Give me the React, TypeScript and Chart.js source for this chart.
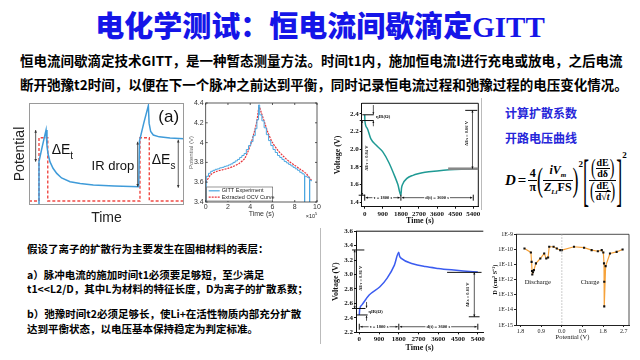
import React, { useEffect, useRef } from "react";
import { Chart, registerables } from "chart.js";
Chart.register(...registerables);

const SANS = '"Liberation Sans", Arial, sans-serif';
const SERIF = '"Liberation Serif", "Times New Roman", serif';
const CJK = '"Noto Sans CJK SC", "Noto Sans", sans-serif';

// ---------- (a) schematic, arbitrary units 0..100 ----------
const SCH_BLUE_X = [6.45, 6.45, 8.5, 11.0, 11.6, 12.3, 13.5, 15.5, 17.9, 21, 26.5, 33, 41.5, 55, 70.8, 71.3, 74, 77.0, 77.5, 78.5, 80.2, 84, 91, 100];
const SCH_BLUE_Y = [-5, 42.5, 57, 73.5, 58, 50, 42.5, 36, 31, 26.5, 22.8, 21, 19.6, 18.7, 18, 63, 80, 97.4, 80, 72, 68.6, 66.8, 65.6, 65];
const SCH_RED_X = [0, 6.45, 6.45, 12.1, 12.1, 71.6, 71.6, 77.6, 77.6, 100];
const SCH_RED_Y = [3.9, 3.9, 66, 66, 3.9, 3.9, 66, 66, 3.9, 3.9];

// ---------- GITT experiment (time in 1e5 s) ----------
const GITT_T = [0.05, 0.05, 0.25, 0.45, 0.65, 0.85, 1.05, 1.25, 1.45, 1.65, 1.85, 2.05, 2.25, 2.45, 2.65, 2.85, 3.05, 3.25, 3.45, 3.65, 3.85, 4.05, 4.25, 4.45, 4.6, 4.75, 4.85, 5.05, 5.25, 5.45, 5.65, 5.85, 6.05, 6.25, 6.45, 6.65, 6.85, 7.05, 7.25, 7.45, 7.65, 7.85, 8.05, 8.25, 8.45, 8.65, 8.85, 8.88, 8.9, 9.1, 9.3, 9.33, 9.35, 9.5];
const GITT_V = [3.3, 3.66, 3.69, 3.71, 3.72, 3.73, 3.735, 3.745, 3.75, 3.76, 3.765, 3.775, 3.785, 3.8, 3.815, 3.83, 3.85, 3.87, 3.89, 3.93, 3.97, 4.01, 4.07, 4.14, 4.23, 4.38, 4.28, 4.22, 4.15, 4.08, 4.02, 3.97, 3.93, 3.9, 3.87, 3.85, 3.83, 3.81, 3.795, 3.78, 3.765, 3.75, 3.735, 3.72, 3.7, 3.685, 3.67, 3.3, 3.66, 3.65, 3.63, 3.3, 3.62, 3.61];
const OCV_T = [0, 0.5, 1, 1.5, 2, 2.5, 3, 3.5, 4, 4.3, 4.6, 4.8, 5.0, 5.3, 5.6, 6, 6.5, 7, 7.5, 8, 8.5, 9, 9.5];
const OCV_V = [3.6, 3.68, 3.71, 3.725, 3.74, 3.76, 3.79, 3.84, 3.97, 4.08, 4.22, 4.36, 4.3, 4.2, 4.1, 4.0, 3.92, 3.86, 3.81, 3.77, 3.73, 3.69, 3.62];
const GITT_X_TICKS = [0, 2, 4, 6, 8, 10];
const GITT_Y_TICKS = [3.4, 3.6, 3.8, 4.0, 4.2, 4.4];

// ---------- discharge pulse ----------
const DIS_T = [0, 10, 120, 300, 600, 900, 1200, 1500, 1650, 1800, 1830, 1900, 2100, 2400, 2700, 3000, 3600, 4200, 4800, 5400];
const DIS_V = [2.39, 2.32, 2.24, 2.12, 2.04, 1.97, 1.85, 1.69, 1.6, 1.48, 1.56, 1.61, 1.67, 1.705, 1.725, 1.74, 1.755, 1.767, 1.775, 1.78];
const DIS_Y_TICKS = [1.4, 1.6, 1.8, 2.0, 2.2, 2.4];
const TIME_TICKS = [0, 900, 1800, 2700, 3600, 4500, 5400];

// ---------- charge pulse ----------
const CHG_T = [0, 20, 120, 450, 940, 1270, 1600, 1800, 1830, 1930, 2430, 3000, 3590, 4200, 4740, 5400];
const CHG_V = [2.44, 2.52, 2.58, 2.715, 2.83, 2.95, 3.13, 3.31, 3.26, 3.22, 3.15, 3.11, 3.085, 3.065, 3.05, 3.035];
const CHG_Y_TICKS = [2.2, 2.4, 2.6, 2.8, 3.0, 3.2, 3.4, 3.6];

// ---------- diffusion coefficient ----------
const D_POT = [-1.63, -1.35, -1.32, -1.3, -1.29, -1.26, -1.22, -1.13, -0.94, -0.77, -0.68, -0.6, -0.55, -0.36, -0.22, -0.07, 0.0, 0.53, 0.97, 1.3, 1.57, 1.74, 1.81, 1.84, 1.85, 1.85, 1.91, 2.1, 2.39, 2.65];
const D_VAL = [1.15e-10, 6.3e-11, 1.5e-11, 3.7e-12, 2.2e-12, 3.1e-12, 4.3e-12, 1.2e-11, 2.5e-11, 5.4e-11, 2.5e-11, 2.9e-11, 1.5e-10, 1.5e-10, 1.15e-10, 8.9e-11, 8.9e-11, 1.5e-10, 1.3e-10, 8.9e-11, 7.6e-11, 8.9e-11, 6.3e-11, 1.2e-11, 7.2e-13, 1.7e-14, 7.9e-12, 5.4e-11, 6.9e-11, 9.8e-11];
const D_X_TICKS = [-1.8, -0.9, 0, 0.9, 1.8, 2.7];
const D_Y_TICKS = [1e-15, 1e-14, 1e-13, 1e-12, 1e-11, 1e-10, 1e-9];

const xy = (xs: number[], ys: number[]) => xs.map((x, i) => ({ x, y: ys[i] }));

function arrow(ctx: any, x1: number, y1: number, x2: number, y2: number, both: boolean, head = 3) {
  ctx.beginPath(); ctx.moveTo(x1, y1); ctx.lineTo(x2, y2); ctx.stroke();
  const h = (xa: number, ya: number, xb: number, yb: number) => {
    const a = Math.atan2(yb - ya, xb - xa);
    ctx.beginPath();
    ctx.moveTo(xb, yb);
    ctx.lineTo(xb - head * Math.cos(a - 0.45), yb - head * Math.sin(a - 0.45));
    ctx.lineTo(xb - head * Math.cos(a + 0.45), yb - head * Math.sin(a + 0.45));
    ctx.closePath(); ctx.fill();
  };
  h(x1, y1, x2, y2);
  if (both) h(x2, y2, x1, y1);
}

const base = (pad: any) => ({
  responsive: false, animation: false, events: [],
  layout: { padding: pad },
  plugins: { legend: { display: false }, tooltip: { enabled: false } },
  elements: { point: { radius: 0 } },
});
const setTicks = (vals: number[]) => (s: any) => { s.ticks = vals.map((v) => ({ value: v })); };

// ---------- chart builders ----------
function makeSchematic() {
  const plugin = {
    id: "schem",
    afterDatasetsDraw(c: any) {
      const { ctx, chartArea: a, scales } = c;
      const X = (v: number) => scales.x.getPixelForValue(v);
      const Y = (v: number) => scales.y.getPixelForValue(v);
      ctx.save();
      ctx.strokeStyle = "#9a9a9a"; ctx.lineWidth = 1;
      ctx.strokeRect(a.left + 0.5, a.top + 0.5, a.right - a.left - 1, a.bottom - a.top - 1);
      ctx.strokeStyle = "#333"; ctx.fillStyle = "#333"; ctx.lineWidth = 0.8;
      arrow(ctx, X(4.3), Y(73.5), X(4.3), Y(42.5), true);
      arrow(ctx, X(70.1), Y(62), X(70.1), Y(18), true);
      arrow(ctx, X(96.3), Y(64), X(96.3), Y(17), true);
      ctx.fillStyle = "#111"; ctx.textBaseline = "middle"; ctx.textAlign = "left";
      ctx.font = `14px ${SANS}`;
      ctx.fillText("ΔE", X(14.6), Y(54));
      let w = ctx.measureText("ΔE").width;
      ctx.font = `10px ${SANS}`; ctx.fillText("t", X(14.6) + w, Y(54) + 6);
      ctx.font = `13px ${SANS}`; ctx.fillText("IR drop", X(40.4), Y(38.2));
      ctx.font = `14px ${SANS}`; ctx.fillText("ΔE", X(79.2), Y(44));
      w = ctx.measureText("ΔE").width;
      ctx.font = `10px ${SANS}`; ctx.fillText("s", X(79.2) + w, Y(44) + 6);
      ctx.font = `17px ${SANS}`; ctx.fillText("(a)", X(83.4), Y(85.6));
      ctx.restore();
    },
  };
  return {
    type: "line",
    data: { datasets: [
      { data: xy(SCH_BLUE_X, SCH_BLUE_Y), borderColor: "#3f9bd9", borderWidth: 1.5, tension: 0 },
      { data: xy(SCH_RED_X, SCH_RED_Y), borderColor: "#f04a44", borderWidth: 1.4, borderDash: [3, 2], tension: 0 },
    ] },
    options: {
      ...base({ top: 8, right: 2, left: 0, bottom: 0 }),
      scales: {
        x: { type: "linear", min: 0, max: 100, ticks: { display: false }, grid: { display: false, drawTicks: false }, border: { display: false },
          title: { display: true, text: "Time", color: "#222", font: { family: SANS, size: 14 }, padding: { top: 0, bottom: 1 } },
          afterFit: (s: any) => { s.height = 23; } },
        y: { type: "linear", min: 0, max: 100, ticks: { display: false }, grid: { display: false, drawTicks: false }, border: { display: false },
          title: { display: true, text: "Potential", color: "#222", font: { family: SANS, size: 14 }, padding: { top: 2, bottom: 0 } },
          afterFit: (s: any) => { s.width = 19; } },
      },
    },
    plugins: [plugin],
  };
}

function makeGitt() {
  const plugin = {
    id: "gitt",
    afterDatasetsDraw(c: any) {
      const { ctx, chartArea: a, scales, data } = c;
      ctx.save();
      ctx.strokeStyle = "#333"; ctx.lineWidth = 0.8;
      ctx.strokeRect(a.left, a.top, a.right - a.left, a.bottom - a.top);
      ctx.beginPath();
      GITT_X_TICKS.forEach((v) => { const x = scales.x.getPixelForValue(v); ctx.moveTo(x, a.bottom); ctx.lineTo(x, a.bottom - 2); ctx.moveTo(x, a.top); ctx.lineTo(x, a.top + 2); });
      GITT_Y_TICKS.forEach((v) => { const y = scales.y.getPixelForValue(v); ctx.moveTo(a.left, y); ctx.lineTo(a.left + 2, y); ctx.moveTo(a.right, y); ctx.lineTo(a.right - 2, y); });
      ctx.stroke();
      const lx = a.left + 1, ly = a.bottom - 15, lw = 66, lh = 14;
      ctx.fillStyle = "#fff"; ctx.fillRect(lx, ly, lw, lh);
      ctx.strokeStyle = "#555"; ctx.lineWidth = 0.6; ctx.strokeRect(lx, ly, lw, lh);
      ctx.font = `5.5px ${SANS}`; ctx.textBaseline = "middle"; ctx.fillStyle = "#222";
      data.datasets.forEach((d: any, i: number) => {
        const yy = ly + 3.8 + i * 6.4;
        ctx.strokeStyle = d.borderColor; ctx.lineWidth = 1.2; ctx.setLineDash(d.borderDash || []);
        ctx.beginPath(); ctx.moveTo(lx + 2, yy); ctx.lineTo(lx + 13, yy); ctx.stroke();
        ctx.setLineDash([]);
        ctx.fillText(d.label, lx + 15, yy);
      });
      ctx.font = `5.5px ${SANS}`; ctx.textAlign = "right";
      ctx.fillText("×10", a.right - 2, a.bottom + 14);
      ctx.font = `4px ${SANS}`; ctx.textAlign = "left";
      ctx.fillText("5", a.right - 2, a.bottom + 12);
      ctx.restore();
    },
  };
  const tickFont = { family: SANS, size: 7 };
  return {
    type: "line",
    data: { datasets: [
      { label: "GITT Experiment", data: xy(GITT_T, GITT_V), borderColor: "#4aa6e0", borderWidth: 1, stepped: true },
      { label: "Extracted OCV Curve", data: xy(OCV_T, OCV_V), borderColor: "#e8333a", borderWidth: 1.2, borderDash: [2, 1], tension: 0.3 },
    ] },
    options: {
      ...base({ top: 11, right: 5, left: 0, bottom: 0 }),
      scales: {
        x: { type: "linear", min: 0, max: 10, afterBuildTicks: setTicks(GITT_X_TICKS),
          ticks: { font: tickFont, color: "#333", padding: 1, maxRotation: 0, autoSkip: false, callback: (v: number) => String(v) },
          grid: { display: false, drawTicks: false }, border: { display: false },
          title: { display: true, text: "Time (s)", color: "#333", font: { family: SANS, size: 7 }, padding: { top: 0, bottom: 2 } },
          afterFit: (s: any) => { s.height = 18; } },
        y: { type: "linear", min: 3.4, max: 4.4, afterBuildTicks: setTicks(GITT_Y_TICKS),
          ticks: { font: tickFont, color: "#333", padding: 2, autoSkip: false, callback: (v: number) => String(Math.round(v * 10) / 10) },
          grid: { display: false, drawTicks: false }, border: { display: false },
          title: { display: true, text: "Potential (V)", color: "#666", font: { family: SANS, size: 6 }, padding: { top: 2, bottom: 0 } },
          afterFit: (s: any) => { s.width = 19.7; } },
      },
    },
    plugins: [plugin],
  };
}

function pulseScales(yMin: number, yMax: number, yTicks: number[], yW: number, xH: number, yTitlePad: number, xTitlePad: number) {
  const tf = { family: SERIF, size: 7, weight: "bold" };
  return {
    x: { type: "linear", min: -150, max: 5650, afterBuildTicks: setTicks(TIME_TICKS),
      ticks: { font: tf, color: "#111", padding: 1, maxRotation: 0, autoSkip: false, callback: (v: number) => String(v) },
      grid: { display: true, drawOnChartArea: false, tickLength: 2, color: "#111" }, border: { display: true, color: "#111" },
      title: { display: true, text: "Time (s)", color: "#111", font: { family: SERIF, size: 8, weight: "bold" }, padding: { top: 0, bottom: xTitlePad } },
      afterFit: (s: any) => { s.height = xH; } },
    y: { type: "linear", min: yMin, max: yMax, afterBuildTicks: setTicks(yTicks),
      ticks: { font: tf, color: "#111", padding: 1, autoSkip: false, callback: (v: number) => v.toFixed(1) },
      grid: { display: true, drawOnChartArea: false, tickLength: 2, color: "#111" }, border: { display: true, color: "#111" },
      title: { display: true, text: "Voltage (V)", color: "#111", font: { family: SERIF, size: 8, weight: "bold" }, padding: { top: yTitlePad, bottom: 0 } },
      afterFit: (s: any) => { s.width = yW; } },
  };
}

function annot(ctx: any, X: any, Y: any, spec: any) {
  ctx.save();
  ctx.strokeStyle = "#111"; ctx.fillStyle = "#111"; ctx.lineWidth = 1;
  spec.bars.forEach((b: number[]) => { ctx.beginPath(); ctx.moveTo(X(b[0]), Y(b[2])); ctx.lineTo(X(b[1]), Y(b[2])); ctx.stroke(); });
  ctx.lineWidth = 0.7;
  spec.vArrows.forEach((v: number[]) => arrow(ctx, X(v[0]), Y(v[1]), X(v[0]), Y(v[2]), true, 2.5));
  spec.oneArrows.forEach((v: number[]) => arrow(ctx, X(v[0]), Y(v[1]), X(v[0]), Y(v[2]), false, 2.2));
  const yb = Y(spec.timeV);
  ctx.lineWidth = 1;
  spec.timeMarks.forEach((t: number) => { ctx.beginPath(); ctx.moveTo(X(t), yb - 3); ctx.lineTo(X(t), yb + 3); ctx.stroke(); });
  ctx.lineWidth = 0.7;
  for (let i = 0; i < spec.timeMarks.length - 1; i++) arrow(ctx, X(spec.timeMarks[i]) + 1, yb, X(spec.timeMarks[i + 1]) - 1, yb, true, 2.5);
  ctx.font = `bold 4.5px ${SERIF}`; ctx.textAlign = "center"; ctx.textBaseline = "middle";
  spec.timeLabels.forEach((l: any) => {
    const w = ctx.measureText(l[0]).width + 2;
    ctx.fillStyle = "#fff"; ctx.fillRect(X(l[1]) - w / 2, yb - 2.5, w, 5);
    ctx.fillStyle = "#111"; ctx.fillText(l[0], X(l[1]), yb);
  });
  spec.rotLabels.forEach((l: any) => {
    ctx.save(); ctx.translate(X(l[1]), Y(l[2])); ctx.rotate(-Math.PI / 2);
    ctx.fillText(l[0], 0, 0); ctx.restore();
  });
  ctx.textAlign = "left";
  spec.labels.forEach((l: any) => ctx.fillText(l[0], X(l[1]), Y(l[2])));
  ctx.restore();
}

const DIS_ANN = {
  bars: [[-120, 450, 2.39], [-250, 450, 2.325], [-300, 20, 1.48], [5000, 5600, 2.44]],
  vArrows: [[-130, 2.325, 1.48], [5360, 2.44, 1.78]],
  oneArrows: [[430, 2.5, 2.395], [430, 2.26, 2.32]],
  timeV: 1.452, timeMarks: [0, 1800, 5400],
  timeLabels: [["τ = 1800 s", 900], ["d(t) = 3600 s", 3600]],
  rotLabels: [["ΔEτ = 0.84 V", 130, 1.9], ["ΔEs = 0.66 V", 5090, 2.18]],
  labels: [["ηIR(Ω)", 560, 2.37]],
};
const CHG_ANN = {
  bars: [[-330, 230, 3.34], [-330, 280, 2.53], [-110, 380, 2.44], [4000, 5570, 3.03], [4990, 5480, 2.415]],
  vArrows: [[-210, 3.34, 2.53], [5240, 3.03, 2.415]],
  oneArrows: [[330, 2.62, 2.54], [330, 2.36, 2.43]],
  timeV: 2.277, timeMarks: [0, 1800, 5400],
  timeLabels: [["τ = 1800 s", 900], ["d(t) = 3600 s", 3600]],
  rotLabels: [["ΔEτ = 0.81 V", 90, 2.95], ["ΔEs = 0.61 V", 4950, 2.72]],
  labels: [["ηIR(Ω)", 420, 2.49]],
};

function makePulse(kind: "dis" | "chg") {
  const dis = kind === "dis";
  const plugin = {
    id: "pulse" + kind,
    afterDatasetsDraw(c: any) {
      const { ctx, chartArea: a, scales } = c;
      const X = (v: number) => scales.x.getPixelForValue(v);
      const Y = (v: number) => scales.y.getPixelForValue(v);
      ctx.save();
      ctx.strokeStyle = "#111"; ctx.lineWidth = 1;
      ctx.beginPath();
      ctx.moveTo(a.left, a.top); ctx.lineTo(a.right, a.top);
      if (dis) { ctx.moveTo(a.right, a.top); ctx.lineTo(a.right, a.bottom); }
      ctx.stroke();
      if (dis) {
        ctx.strokeStyle = "#888"; ctx.lineWidth = 2.5;
        ctx.beginPath(); ctx.moveTo(X(4150), Y(1.78)); ctx.lineTo(X(5650), Y(1.78)); ctx.stroke();
      }
      ctx.restore();
      annot(ctx, X, Y, dis ? DIS_ANN : CHG_ANN);
    },
  };
  return {
    type: "line",
    data: { datasets: [
      dis
        ? { data: xy(DIS_T, DIS_V), borderColor: "#1f9a94", borderWidth: 1.5, cubicInterpolationMode: "monotone" }
        : { data: xy(CHG_T, CHG_V), borderColor: "#3b5cf0", borderWidth: 1.5, cubicInterpolationMode: "monotone" },
    ] },
    options: {
      ...base(dis ? { top: 8.3, right: 4.7, left: 0, bottom: 0 } : { top: 5, right: 2.7, left: 0, bottom: 0 }),
      scales: dis
        ? pulseScales(1.35, 2.52, DIS_Y_TICKS, 28.7, 21.3, 0, 2)
        : pulseScales(2.2, 3.6, CHG_Y_TICKS, 25, 23.7, 0, 3.5),
    },
    plugins: [plugin],
  };
}

function makeDiff() {
  const plugin = {
    id: "diff",
    afterDatasetsDraw(c: any) {
      const { ctx, chartArea: a, scales } = c;
      const X = (v: number) => scales.x.getPixelForValue(v);
      const Y = (v: number) => scales.y.getPixelForValue(v);
      ctx.save();
      ctx.strokeStyle = "#222"; ctx.lineWidth = 0.8;
      ctx.beginPath(); ctx.moveTo(a.left, a.top); ctx.lineTo(a.right, a.top); ctx.lineTo(a.right, a.bottom); ctx.stroke();
      ctx.strokeStyle = "#aaa"; ctx.setLineDash([1.5, 1.5]);
      ctx.beginPath(); ctx.moveTo(X(0), a.top); ctx.lineTo(X(0), a.bottom); ctx.stroke();
      ctx.setLineDash([]);
      ctx.fillStyle = "#111"; ctx.font = `6.5px ${SERIF}`; ctx.textAlign = "center"; ctx.textBaseline = "middle";
      ctx.fillText("Discharge", X(-1.05), Y(6.6e-13));
      ctx.fillText("Charge", X(1.23), Y(6.6e-13));
      ctx.restore();
    },
  };
  const tf = { family: SERIF, size: 6 };
  return {
    type: "line",
    data: { datasets: [
      { data: xy(D_POT, D_VAL), borderColor: "#f6a23a", borderWidth: 1.2, pointRadius: 1.5, pointStyle: "rect", pointBackgroundColor: "#111", pointBorderColor: "#111", pointBorderWidth: 0 },
    ] },
    options: {
      ...base({ top: 8.3, right: 5, left: 0, bottom: 0 }),
      scales: {
        x: { type: "linear", min: -2.0, max: 2.93, afterBuildTicks: setTicks(D_X_TICKS),
          ticks: { font: tf, color: "#222", padding: 1, maxRotation: 0, autoSkip: false, callback: (v: number) => Math.abs(v).toFixed(1) },
          grid: { display: true, drawOnChartArea: false, tickLength: 2, color: "#222" }, border: { display: true, color: "#222" },
          title: { display: true, text: "Potential (V)", color: "#111", font: { family: SERIF, size: 6.5 }, padding: { top: 0, bottom: 5 } },
          afterFit: (s: any) => { s.height = 21; } },
        y: { type: "logarithmic", min: 1e-15, max: 1e-9, afterBuildTicks: setTicks(D_Y_TICKS),
          ticks: { font: tf, color: "#222", padding: 1, autoSkip: false, callback: (v: number) => "1E" + Math.round(Math.log10(v)) },
          grid: { display: true, drawOnChartArea: false, tickLength: 2, color: "#222" }, border: { display: true, color: "#222" },
          title: { display: true, text: "D (cm² S⁻¹)", color: "#111", font: { family: SERIF, size: 6.5, weight: "bold" }, padding: { top: 3, bottom: 0 } },
          afterFit: (s: any) => { s.width = 28; } },
      },
    },
    plugins: [plugin],
  };
}

function ChartBox({ left, top, width, height, make }: any) {
  const ref = useRef<HTMLCanvasElement>(null);
  useEffect(() => {
    const c = new Chart(ref.current as HTMLCanvasElement, make());
    return () => c.destroy();
  }, []);
  return <canvas ref={ref} width={width} height={height} style={{ position: "absolute", left, top, width, height }} />;
}

function Line({ left, cy, size, color = "#000", children, family = CJK, weight = 700 }: any) {
  const lh = Math.round(size * 1.4);
  return (
    <div style={{ position: "absolute", left, top: cy - lh / 2, height: lh, lineHeight: `${lh}px`, fontSize: size, fontFamily: family, fontWeight: weight, color, whiteSpace: "nowrap" }}>
      {children}
    </div>
  );
}

function Frac({ num, den, size }: any) {
  return (
    <span style={{ display: "inline-flex", flexDirection: "column", alignItems: "center", verticalAlign: "middle", fontSize: size, lineHeight: 1.05 }}>
      <span style={{ padding: "0 1px" }}>{num}</span>
      <span style={{ alignSelf: "stretch", borderTop: "1px solid #000", height: 0 }} />
      <span style={{ padding: "0 1px" }}>{den}</span>
    </span>
  );
}

function Formula() {
  const big = (ch: string, fs: number, sy: number) => (
    <span style={{ display: "inline-block", fontSize: fs, fontWeight: 400, transform: `scaleY(${sy})`, lineHeight: 1 }}>{ch}</span>
  );
  const sup = (mt: number) => <span style={{ fontSize: 9, alignSelf: "flex-start", marginTop: mt }}>2</span>;
  const paren = (f: any) => (
    <span style={{ display: "inline-flex", alignItems: "center" }}>{big("(", 14, 1.6)}{f}{big(")", 14, 1.6)}</span>
  );
  return (
    <div style={{ position: "absolute", left: 505, top: 150, height: 60, display: "flex", alignItems: "center", fontFamily: SERIF, fontWeight: 700, fontSize: 15, color: "#000", whiteSpace: "nowrap" }}>
      <span style={{ fontStyle: "italic" }}>D</span>
      <span style={{ margin: "0 2px" }}>=</span>
      <Frac size={12} num="4" den="π" />
      {big("(", 18, 1.9)}
      <Frac size={12} num={<><i>iV</i><sub style={{ fontSize: 7 }}><i>m</i></sub></>} den={<><i>Z</i><sub style={{ fontSize: 7 }}><i>Li</i></sub>FS</>} />
      {big(")", 18, 1.9)}
      {sup(9)}
      {big("[", 18, 3.2)}
      <Frac size={10}
        num={paren(<Frac size={10} num="dE" den="dδ" />)}
        den={paren(<Frac size={10} num="dE" den={<>d√<i style={{ textDecoration: "overline" }}>t</i></>} />)} />
      {big("]", 18, 3.2)}
      {sup(0)}
    </div>
  );
}

const TITLE_CN = "电化学测试：恒电流间歇滴定";
const TITLE_EN = "GITT";
const INTRO = [
  "恒电流间歇滴定技术GITT，是一种暂态测量方法。时间t1内，施加恒电流I进行充电或放电，之后电流",
  "断开弛豫t2时间，以便在下一个脉冲之前达到平衡，同时记录恒电流过程和弛豫过程的电压变化情况。",
];
const NOTES = [
  "假设了离子的扩散行为主要发生在固相材料的表层：",
  "a）脉冲电流的施加时间t1必须要足够短，至少满足",
  "t1<<L2/D，其中L为材料的特征长度，D为离子的扩散系数；",
  "b）弛豫时间t2必须足够长，使Li+在活性物质内部充分扩散",
  "达到平衡状态，以电压基本保持稳定为判定标准。",
];
const NOTE_Y = [248, 274, 288, 313, 328];
const SIDE = ["计算扩散系数", "开路电压曲线"];

export default function App() {
  return (
    <div style={{ position: "fixed", left: 0, top: 0, width: 640, height: 360, background: "#fff", overflow: "hidden" }}>
      <div style={{ position: "absolute", left: 0, width: 640, top: 4, height: 40, lineHeight: "40px", textAlign: "center", color: "#1515e8", fontSize: 29, fontWeight: 900, fontFamily: CJK, whiteSpace: "nowrap" }}>
        {TITLE_CN}<span style={{ fontFamily: SERIF, fontWeight: 700 }}>{TITLE_EN}</span>
      </div>
      <Line left={20} cy={60} size={13.5}>{INTRO[0]}</Line>
      <Line left={20} cy={84} size={13.5}>{INTRO[1]}</Line>
      {NOTES.map((t, i) => <Line key={i} left={27} cy={NOTE_Y[i]} size={10.5}>{t}</Line>)}
      <Line left={505} cy={112} size={12} color="#2626d9">{SIDE[0]}</Line>
      <Line left={505} cy={137} size={12} color="#2626d9">{SIDE[1]}</Line>
      <Formula />
      <div style={{ position: "absolute", left: 481, top: 98, width: 1, height: 112, background: "#bbb" }} />
      <div style={{ position: "absolute", left: 320, top: 228, width: 1, height: 116, background: "#bbb" }} />
      <ChartBox left={10} top={95} width={176} height={133} make={makeSchematic} />
      <ChartBox left={186} top={92} width={136} height={128} make={makeGitt} />
      <ChartBox left={333} top={95} width={150} height={133} make={() => makePulse("dis")} />
      <ChartBox left={331} top={226} width={155} height={130} make={() => makePulse("chg")} />
      <ChartBox left={488} top={226} width={146} height={120} make={makeDiff} />
    </div>
  );
}
